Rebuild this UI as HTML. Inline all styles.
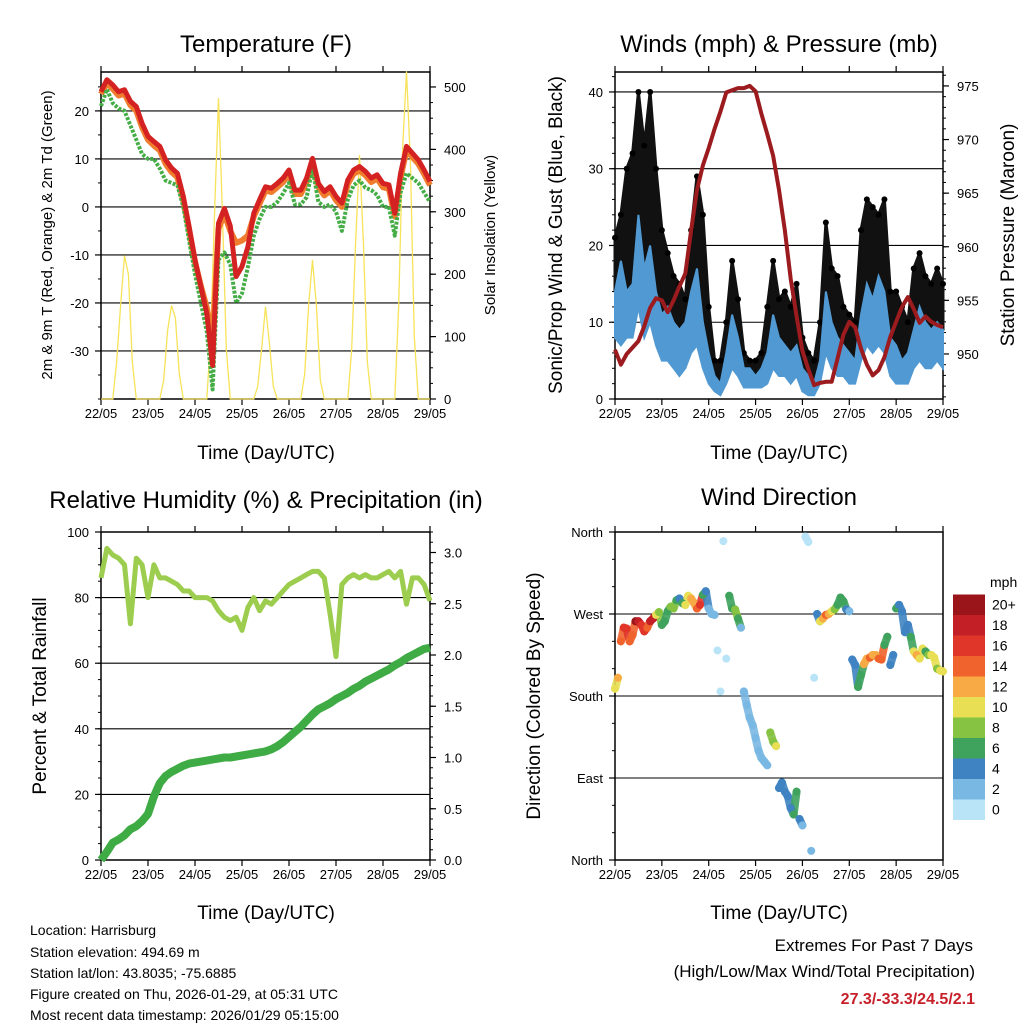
<!DOCTYPE html>
<html><head><meta charset="utf-8">
<style>
html,body{margin:0;padding:0;background:#fff;}
svg{display:block;font-family:"Liberation Sans",Arial,sans-serif;}
</style></head>
<body>
<svg id="chart" width="1024" height="1024" viewBox="0 0 1024 1024" xmlns="http://www.w3.org/2000/svg">
<rect x="0" y="0" width="1024" height="1024" fill="#fff"/>
<text x="266" y="52" font-size="24" text-anchor="middle">Temperature (F)</text>
<text x="779" y="52" font-size="24" text-anchor="middle">Winds (mph) &amp; Pressure (mb)</text>
<text x="266" y="508" font-size="24" text-anchor="middle">Relative Humidity (%) &amp; Precipitation (in)</text>
<text x="779" y="505" font-size="24" text-anchor="middle">Wind Direction</text>
<text x="266" y="459" font-size="19" text-anchor="middle">Time (Day/UTC)</text>
<text x="779" y="459" font-size="19" text-anchor="middle">Time (Day/UTC)</text>
<text x="266" y="919" font-size="19" text-anchor="middle">Time (Day/UTC)</text>
<text x="779" y="919" font-size="19" text-anchor="middle">Time (Day/UTC)</text>
<text transform="translate(52,235) rotate(-90)" font-size="15" text-anchor="middle">2m &amp; 9m T (Red, Orange) &amp; 2m Td (Green)</text>
<text transform="translate(495,235) rotate(-90)" font-size="15" text-anchor="middle">Solar Insolation (Yellow)</text>
<text transform="translate(562,235) rotate(-90)" font-size="19" text-anchor="middle">Sonic/Prop Wind &amp; Gust (Blue, Black)</text>
<text transform="translate(1014,235) rotate(-90)" font-size="19" text-anchor="middle">Station Pressure (Maroon)</text>
<text transform="translate(46,696) rotate(-90)" font-size="19" text-anchor="middle">Percent &amp; Total Rainfall</text>
<text transform="translate(540,696) rotate(-90)" font-size="19" text-anchor="middle">Direction (Colored By Speed)</text>
<g font-size="14">
<text x="30" y="935">Location: Harrisburg</text>
<text x="30" y="957">Station elevation: 494.69 m</text>
<text x="30" y="978">Station lat/lon: 43.8035; -75.6885</text>
<text x="30" y="999">Figure created on Thu, 2026-01-29, at 05:31 UTC</text>
<text x="30" y="1020">Most recent data timestamp: 2026/01/29 05:15:00</text>
</g>
<text x="973" y="951" font-size="17" text-anchor="end">Extremes For Past 7 Days</text>
<text x="975" y="977" font-size="17" text-anchor="end">(High/Low/Max Wind/Total Precipitation)</text>
<text x="975" y="1004" font-size="16" font-weight="bold" fill="#c8202a" text-anchor="end">27.3/-33.3/24.5/2.1</text>
</svg>
<script>
// ---- data ----
const dayLabels = ["22/05","23/05","24/05","25/05","26/05","27/05","28/05","29/05"];
const tempRed = [24,26.5,25.4,24,24.4,22,20.9,17.4, 14.7,13.6,12.6,9.8,8.1,7,2.2,-4.1, -11,-16.6,-22.2,-33,-3.4,-0.3,-4,-14.5, -12.4,-8.3,-1.3,1.5,4.2,3.9,4.9,6, 7.7,3.5,3.5,6,10.1,4.9,3.2,4.2, 2.2,0.8,5.6,7.7,8.4,7.4,6,6.7, 4.9,4.6,-1.3,7,12.6,11.2,9.8,7.7, 5.3];
const tempOrange = [23.5,25.8,24.6,23.2,23.6,21.2,20,16.6, 14,12.8,11.8,9,7.3,6.2,1.4,-4.8, -11.5,-16.5,-21,-28,-4.5,-1.5,-5,-7.5, -7,-6,-2,0.7,3.4,3.1,4.1,5.2, 6.9,2.7,2.7,5.2,9.3,4.1,2.4,3.4, 1.4,0,4.8,6.9,7.6,6.6,5.2,5.9, 4.1,3.8,-2,6.2,11.8,10.4,9,6.9, 4.5];
const dewGreen = [21,24.5,21.6,20.5,20,17,14,11, 10,10,8,5.5,5,4.5,0,-7, -14,-20,-26,-38,-11,-9.5,-12,-20, -18,-12.5,-6,-2.5,0,0,1,2.8, 5,0.5,0.5,2,8,1,0,0.5, -1,-5,1.5,4.5,5.5,4,3.5,2.5, 0,0,-6,3,7,6,5,3, 1];
const solar = [0,0,0,0,60,150,230,200,60,0,0,0, 0,0,0,0,30,110,150,130,40,0,0,0, 0,0,0,0,100,300,482,300,80,0,0,0, 0,0,0,0,20,80,148,90,20,0,0,0, 0,0,0,0,40,150,223,150,30,0,0,0, 0,0,0,0,80,250,391,250,60,0,0,0, 0,0,0,0,150,400,525,380,100,0,0,0, 0];
const tempTicks = [-30,-20,-10,0,10,20];
const solarTicks = [0,100,200,300,400,500];
const windHigh = [14,18,14,15,24,17,20,14, 11,12,10,9,10,14,17,10, 6,3,2,6,11,8,4,4, 3,4,6,11,8,7,6,7, 4,3,2,5,14,10,8,7, 6,5,11,15,13,16,14,8, 7,5,6,9,12,10,9,10, 9];
const windLow = [8,7,8,8,12,8,10,7, 5,5,4,3,4,6,7,4, 2,1,0.5,2,4,3,1.5,1.5, 1.5,1.5,2,4,3,3,2,3, 1,0.5,0.5,2,6,4,3,3, 2,2,5,7,6,7,6,3, 2,2,2,4,5,4,4,5, 4];
const gustHigh = [21,24,30,32,40,33,40,30, 22,19,16,15,13,22,29,24, 12,5,5,10,18,13,6,5, 5,6,12,18,13,14,12,15, 8,6,5,10,23,17,16,12, 11,10,22,26,25,24,26,14, 14,12,10,17,19,16,15,17, 15];
const pressure = [950.4,949.0,950.0,950.6,951.2,952.6,954.3,955.2, 955.0,953.9,955.0,956.3,957.5,961.5,965.3,967.6, 969.2,971.0,972.6,974.4,974.6,974.8,974.8,975.0, 974.5,972.4,970.5,968.5,965.3,961.5,957.0,953.5, 950.3,948.6,947.1,947.3,947.4,947.4,949.6,951.8, 953.0,952.5,950.5,949.0,948.0,948.5,949.7,951.6, 953.0,954.4,955.3,954.2,952.9,953.5,953.0,952.7, 952.5];
const windTicks = [0,10,20,30,40];
const pressTicks = [950,955,960,965,970,975];
const rh = [86,95,93,92,90,72,92,90, 80,90,86,86,85,84,82,82, 80,80,80,79,76,74,73,74, 70,77,80,76,79,78,80,82, 84,85,86,87,88,88,86,75, 62,84,86,87,86,87,86,86, 87,88,86,88,78,86,86,84, 79];
const precip = [0,.08,.17,.2,.24,.3,.33,.38, .45,.62,.75,.82,.86,.89,.92,.94, .95,.96,.97,.98,.99,1.0,1.0,1.01, 1.02,1.03,1.04,1.05,1.06,1.08,1.11,1.15, 1.2,1.25,1.3,1.36,1.42,1.47,1.5,1.53, 1.57,1.6,1.63,1.67,1.7,1.74,1.77,1.8, 1.83,1.86,1.9,1.93,1.97,2.0,2.03,2.06, 2.07];
const rhTicks = [0,20,40,60,80,100];
const precipTicks = ["0.0","0.5","1.0","1.5","2.0","2.5","3.0"];
// wind direction on the hour (every 3h) and at half-steps (every 3h, offset 1.5h)
const windDir = [188,240,254,247,262,251,262,269, 258,273,276,287,280,287,276,291, 276,269,185,221,276,265,185,156, 134,112,104,130,79,75,57,75, 38,349,200,262,269,273,280,284, 273,214,203,221,225,221,236,214, 276,273,258,229,221,229,225,210, 207];
const windSpd = [11,15,17,14,19,16,18,11, 6,7,8,5,10,13,14,7, 3,3,1,1,7,6,2,2, 2,2,3,9,5,5,4,6, 3,1,1,10,14,10,6,7, 3,4,6,13,12,14,6,4, 6,4,5,10,10,7,10,9, 10];
const windDirB = [200,255,240,262,258,255,265,272, 262,278,285,282,290,282,280,295, 270,230,350,290,275,255,170,148, 120,108,140,125,85,70,50,45, 355,10,270,265,270,275,288,275, 220,190,215,222,225,220,245,225, 280,250,245,225,232,225,222,208];
const windSpdB = [12,17,14,20,17,15,19,9, 6,9,6,7,11,13,16,5, 2,1,0,7,9,3,2,2, 2,3,9,10,5,4,6,4, 1,2,4,13,12,8,7,4, 4,6,12,14,12,15,7,4, 5,4,7,12,10,9,10,10];
const dirTicks = ["North","East","South","West","North"];
const speedLabels = ["0","2","4","6","8","10","12","14","16","18","20+"];
const speedColors = ["#b9e3f7","#7ab8e4","#3f83c2","#3fa35e","#86c343","#e8df55","#f8aa45","#f0632c","#e0362a","#c21f27","#9a1519"];

// ---- helpers ----
const svg = document.getElementById('chart');
const NS = 'http://www.w3.org/2000/svg';
function mk(tag, attrs, parent){
  const e = document.createElementNS(NS, tag);
  for (const k in attrs) e.setAttribute(k, attrs[k]);
  (parent||svg).appendChild(e);
  return e;
}
function panel(x0,x1,y0,y1){
  return {x0,x1,y0,y1, tx: h => x0 + (x1-x0)*h/168};
}
function lin(d0,d1,r0,r1){ return v => r0 + (v-d0)*(r1-r0)/(d1-d0); }

function frame(p, name){
  const g = mk('g', {});
  
  
  for (let d=0; d<dayLabels.length; d++){
    const x = p.tx(d*24);
    mk('line',{x1:x,x2:x,y1:p.y1,y2:p.y1+6,stroke:'#000','stroke-width':1.2},g);
    mk('line',{x1:x,x2:x,y1:p.y0,y2:p.y0-6,stroke:'#000','stroke-width':1.2},g);
    const t = mk('text',{x:x,y:p.y1+19,'font-size':13,'text-anchor':'middle'},g);
    t.textContent = dayLabels[d];
    
    
  }
  return g;
}
function box(p,g){
  mk('rect',{x:p.x0,y:p.y0,width:p.x1-p.x0,height:p.y1-p.y0,fill:'none',stroke:'#000','stroke-width':1.5},g);
}
function yTicks(p,g,vals,labels,fy,side,minorStep,dmin,dmax){
  for (let v=dmin; v<=dmax+1e-9; v+=minorStep){
    const y = fy(v);
    if (y < p.y0-0.5 || y > p.y1+0.5) continue;
    const x = side==='left'?p.x0:p.x1;
    const dx = side==='left'?-3:3;
    mk('line',{x1:x,x2:x+dx,y1:y,y2:y,stroke:'#000','stroke-width':1},g);
  }
  vals.forEach((v,i)=>{
    const y = fy(v);
    const x = side==='left'?p.x0:p.x1;
    const dx = side==='left'?-6:6;
    mk('line',{x1:x,x2:x+dx,y1:y,y2:y,stroke:'#000','stroke-width':1.2},g);
    const t = mk('text',{x: side==='left'? p.x0-12 : p.x1+14, y:y+5,'font-size':13,'text-anchor': side==='left'?'end':'start'},g);
    t.textContent = labels[i];
    
    
  });
}
function grid(p,g,vals,fy){
  vals.forEach(v=>{
    const y=fy(v);
    if (y<=p.y0+1||y>=p.y1-1) return;
    mk('line',{x1:p.x0,x2:p.x1,y1:y,y2:y,stroke:'#000','stroke-width':1.1},g);
  });
}
function poly(arr, step, p, fy){
  return arr.map((v,i)=>p.tx(i*step).toFixed(1)+','+fy(v).toFixed(1)).join(' ');
}

// ---- Panel 1: Temperature ----
const p1 = panel(101,430,72,399);
const tY = lin(-40,28.1,399,72);
const sY = lin(0,524,399,72);
const g1 = frame(p1,'temperature');
grid(p1,g1,tempTicks,tY);
const solarLine = mk('polyline',{points:poly(solar,2,p1,sY),fill:'none',stroke:'#f7e35a','stroke-width':1.3});


const orangeLine = mk('polyline',{points:poly(tempOrange,3,p1,tY),fill:'none',stroke:'#f07d2e','stroke-width':6,'stroke-linejoin':'round'});


const greenLine = mk('polyline',{points:poly(dewGreen,3,p1,tY),fill:'none',stroke:'#45ad45','stroke-width':4,'stroke-dasharray':'3 1.5','stroke-linejoin':'round'});


const redLine = mk('polyline',{points:poly(tempRed,3,p1,tY),fill:'none',stroke:'#d42222','stroke-width':5,'stroke-linejoin':'round'});


yTicks(p1,g1,tempTicks,tempTicks.map(String),tY,'left',5,-40,28);
yTicks(p1,g1,solarTicks,solarTicks.map(String),sY,'right',25,0,524);
box(p1,g1);

// ---- Panel 2: Winds ----
const p2 = panel(615,943,72,399);
const wY = lin(0,42.6,399,72);
const pY = lin(945.8,976.3,399,72);
const g2 = frame(p2,'winds');
grid(p2,g2,windTicks,wY);
let gp = gustHigh.map((v,i)=>p2.tx(i*3).toFixed(1)+','+wY(v).toFixed(1));
for (let i=windHigh.length-1;i>=0;i--) gp.push(p2.tx(i*3).toFixed(1)+','+wY(windHigh[i]).toFixed(1));
const gustBand = mk('polygon',{points:gp.join(' '),fill:'#111',stroke:'#111','stroke-width':3,'stroke-linejoin':'round'});


gustHigh.forEach((v,i)=>{
  const c = mk('circle',{cx:p2.tx(i*3),cy:wY(v),r:3,fill:'#000'});
  
  
});
let bp = windHigh.map((v,i)=>p2.tx(i*3).toFixed(1)+','+wY(v).toFixed(1));
for (let i=windLow.length-1;i>=0;i--) bp.push(p2.tx(i*3).toFixed(1)+','+wY(windLow[i]).toFixed(1));
const windBand = mk('polygon',{points:bp.join(' '),fill:'#5199d2',stroke:'#5199d2','stroke-width':2});


const pLine = mk('polyline',{points:poly(pressure,3,p2,pY),fill:'none',stroke:'#9b1b1e','stroke-width':4,'stroke-linejoin':'round'});


yTicks(p2,g2,windTicks,windTicks.map(String),wY,'left',2,0,42);
yTicks(p2,g2,pressTicks,pressTicks.map(String),pY,'right',1,946,976);
box(p2,g2);

// ---- Panel 3: RH & precip ----
const p3 = panel(101,430,532,860);
const rY = lin(0,100,860,532);
const prY = lin(0,3.2,860,532);
const g3 = frame(p3,'humidity');
grid(p3,g3,rhTicks,rY);
const rhLine = mk('polyline',{points:poly(rh,3,p3,rY),fill:'none',stroke:'#9ccd4e','stroke-width':5,'stroke-linejoin':'round'});


const prLine = mk('polyline',{points:poly(precip,3,p3,prY),fill:'none',stroke:'#3eab44','stroke-width':8,'stroke-linejoin':'round'});


yTicks(p3,g3,rhTicks,rhTicks.map(String),rY,'left',5,0,100);
yTicks(p3,g3,precipTicks.map(Number),precipTicks,prY,'right',0.1,0,3.2);
box(p3,g3);

// ---- Panel 4: Wind direction ----
const p4 = panel(615,943,532,860);
const dY = lin(0,360,860,532);
const g4 = frame(p4,'wind-direction');
const dirVals = [0,90,180,270,360];
grid(p4,g4,dirVals,dY);
function colorFor(s){ return speedColors[Math.min(10,Math.floor(s/2))]; }
// merge both sample sets in time order
const seq = [];
windDir.forEach((d,i)=>{ seq.push({h:i*3,d:d,s:windSpd[i]}); if (i<windDirB.length) seq.push({h:i*3+1.5,d:windDirB[i],s:windSpdB[i]}); });
for (let i=0;i<seq.length-1;i++){
  if (Math.abs(seq[i+1].d-seq[i].d)<30){
    const s = mk('line',{x1:p4.tx(seq[i].h),y1:dY(seq[i].d),x2:p4.tx(seq[i+1].h),y2:dY(seq[i+1].d),stroke:colorFor(seq[i].s),'stroke-width':8,'stroke-linecap':'round',opacity:0.9});
    
    
  }
}
seq.forEach(pt=>{
  const c = mk('circle',{cx:p4.tx(pt.h),cy:dY(pt.d),r:4,fill:colorFor(pt.s)});
  
  
});
yTicks(p4,g4,dirVals,dirTicks,dY,'left',30,0,360);
box(p4,g4);

// ---- Speed legend ----
const lg = mk('g',{});


const lt = mk('text',{x:990,y:587,'font-size':14},lg);
lt.textContent = 'mph';
speedLabels.forEach((lab,i)=>{
  const y = 820 - (i+1)*20.5;
  const r = mk('rect',{x:953,y:y,width:32,height:20.5,fill:speedColors[i]},lg);
  
  
  const t = mk('text',{x:992,y:y+15,'font-size':14},lg);
  t.textContent = lab;
  
  
});
</script>
</body></html>
